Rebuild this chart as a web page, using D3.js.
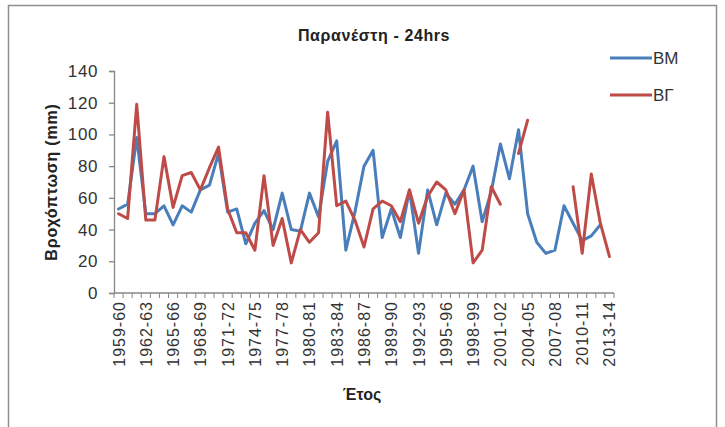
<!DOCTYPE html>
<html>
<head>
<meta charset="utf-8">
<script src="https://cdn.jsdelivr.net/npm/d3@7/dist/d3.min.js"></script>
<style>
  html, body { margin: 0; padding: 0; background: #fff; }
  svg { display: block; font-family: "Liberation Sans", Arial, sans-serif; }
</style>
</head>
<body>
<svg id="chart" width="725" height="427"></svg>
<script>
// Hydrological years 1959-60 … 2013-14
const years = [
  "1959-60","1960-61","1961-62","1962-63","1963-64","1964-65","1965-66","1966-67","1967-68","1968-69",
  "1969-70","1970-71","1971-72","1972-73","1973-74","1974-75","1975-76","1976-77","1977-78","1978-79",
  "1979-80","1980-81","1981-82","1982-83","1983-84","1984-85","1985-86","1986-87","1987-88","1988-89",
  "1989-90","1990-91","1991-92","1992-93","1993-94","1994-95","1995-96","1996-97","1997-98","1998-99",
  "1999-00","2000-01","2001-02","2002-03","2003-04","2004-05","2005-06","2006-07","2007-08","2008-09",
  "2009-10","2010-11","2011-12","2012-13","2013-14"
];

// Maximum 24-hour rainfall (mm), ΒΜ series
const seriesBM = [
  53, 56, 98, 50, 50, 55, 43, 55, 51, 65,
  68, 88, 51, 53, 31, 44, 52, 40, 63, 40,
  39, 63, 48, 83, 96, 27, 51, 80, 90, 35,
  53, 35, 65, 25, 65, 43, 63, 56, 65, 80,
  45, 64, 94, 72, 103, 50, 32, 25, 27, 55,
  44, 33, 36, 43, null
];

// Maximum 24-hour rainfall (mm), ΒΓ series
const seriesBG = [
  50, 47, 119, 46, 46, 86, 54, 74, 76, 65,
  79, 92, 53, 38, 38, 27, 74, 30, 47, 19,
  40, 32, 38, 114, 55, 58, 46, 29, 53, 58,
  55, 45, 65, 44, 61, 70, 65, 50, 65, 19,
  27, 67, 56, null, 88, 109, null, null, null, null,
  67, 25, 75, 44, 23
];

const yTicks = [0, 20, 40, 60, 80, 100, 120, 140];
const tickLabelStep = 3;

const series = [
  { name: "ΒΜ", values: seriesBM, color: "#4a7ebb" },
  { name: "ΒΓ", values: seriesBG, color: "#be4b48" }
];

const svg = d3.select("#chart");
const axisColor = "#868686";
const textColor = "#333";

// frame around the chart area
svg.append("rect")
  .attr("x", 8.5).attr("y", 5.5)
  .attr("width", 708).attr("height", 440)
  .attr("fill", "#fff")
  .attr("stroke", "#8f8f8f").attr("stroke-width", 1.5);

const plot = { left: 114, right: 614, top: 71, bottom: 293 };

const x = d3.scaleBand()
  .domain(years)
  .range([plot.left, plot.right])
  .paddingInner(0).paddingOuter(0);

const y = d3.scaleLinear()
  .domain([0, 140])
  .range([plot.bottom, plot.top]);

// title
svg.append("text")
  .attr("x", 374).attr("y", 41)
  .attr("text-anchor", "middle")
  .attr("font-size", 16).attr("font-weight", "bold")
  .attr("letter-spacing", 0.6)
  .attr("fill", "#222")
  .text("Παρανέστη - 24hrs");

// y axis
const yAxis = d3.axisLeft(y).tickValues(yTicks).tickSize(5).tickPadding(11);
const gy = svg.append("g")
  .attr("transform", `translate(${plot.left},0)`)
  .call(yAxis);
gy.select(".domain").attr("stroke", axisColor).attr("stroke-width", 1.3);
gy.selectAll(".tick line").attr("stroke", axisColor).attr("stroke-width", 1.3);
gy.selectAll(".tick text")
  .attr("font-size", 17).attr("fill", textColor)
  .attr("letter-spacing", 0.6)
  .attr("font-family", "Liberation Sans, Arial, sans-serif");

// x axis: ticks on category boundaries, labels every third year
const gx = svg.append("g")
  .attr("transform", `translate(0,${plot.bottom})`);
gx.append("line")
  .attr("x1", plot.left).attr("x2", plot.right)
  .attr("y1", 0).attr("y2", 0)
  .attr("stroke", axisColor).attr("stroke-width", 1.3);
const boundaries = years.map(d => x(d)).concat([x(years[years.length - 1]) + x.bandwidth()]);
gx.selectAll("line.tick")
  .data(boundaries)
  .join("line")
  .attr("class", "tick")
  .attr("x1", d => d).attr("x2", d => d)
  .attr("y1", 0).attr("y2", 5)
  .attr("stroke", axisColor).attr("stroke-width", 1);
gx.selectAll("text.label")
  .data(years.filter((d, i) => i % tickLabelStep === 0))
  .join("text")
  .attr("class", "label")
  .attr("transform", d => `translate(${x(d) + x.bandwidth() / 2 + 6},8) rotate(-90)`)
  .attr("text-anchor", "end")
  .attr("font-size", 16)
  .attr("letter-spacing", 1)
  .attr("fill", textColor)
  .text(d => d);

// axis titles
svg.append("text")
  .attr("transform", `translate(57,182) rotate(-90)`)
  .attr("text-anchor", "middle")
  .attr("font-size", 16).attr("font-weight", "bold")
  .attr("letter-spacing", 0.8)
  .attr("fill", "#222")
  .text("Βροχόπτωση (mm)");

svg.append("text")
  .attr("x", 362).attr("y", 400)
  .attr("text-anchor", "middle")
  .attr("font-size", 16).attr("font-weight", "bold")
  .attr("fill", "#222")
  .text("Έτος");

// series lines (gaps where a year has no value)
const line = d3.line()
  .defined(d => d.v != null)
  .x(d => x(d.year) + x.bandwidth() / 2)
  .y(d => y(d.v));

series.forEach(s => {
  svg.append("path")
    .datum(years.map((year, i) => ({ year, v: s.values[i] })))
    .attr("fill", "none")
    .attr("stroke", s.color)
    .attr("stroke-width", 3)
    .attr("stroke-linejoin", "round")
    .attr("stroke-linecap", "round")
    .attr("d", line);
});

// legend
const legend = svg.append("g").attr("transform", "translate(610,58)");
series.forEach((s, i) => {
  const g = legend.append("g").attr("transform", `translate(0,${i * 37})`);
  g.append("line")
    .attr("x1", 0).attr("x2", 42)
    .attr("stroke", s.color).attr("stroke-width", 3);
  g.append("text")
    .attr("x", 43).attr("y", 0).attr("dy", "0.36em")
    .attr("font-size", 17).attr("fill", textColor)
    .text(s.name);
});
</script>
</body>
</html>
